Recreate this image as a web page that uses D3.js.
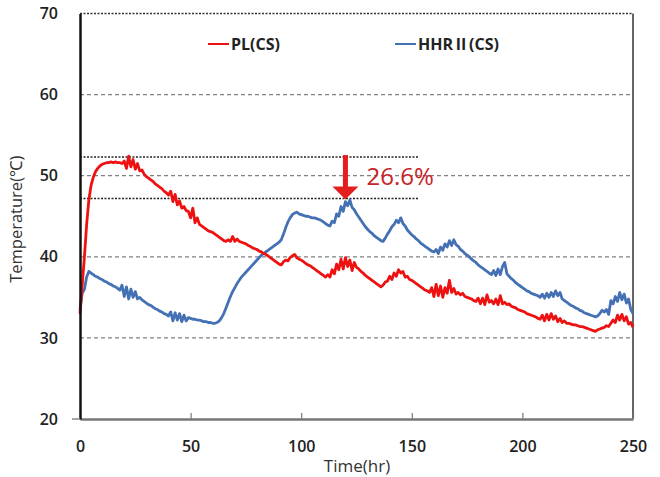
<!DOCTYPE html>
<html>
<head>
<meta charset="utf-8">
<script src="https://cdn.jsdelivr.net/npm/d3@7"></script>
<style>
  body { margin: 0; background: #fff; }
  svg text { font-family: "Open Sans", "Noto Sans", sans-serif; }
</style>
</head>
<body>
<div id="chart"></div>
<script>
// hourly readings, t = 0..250 hr
const plCS = [
  33.0, 36.5, 40.0, 44.0, 47.0, 48.8, 49.8, 50.5, 50.9, 51.2,
  51.4, 51.5, 51.6, 51.6, 51.7, 51.6, 51.7, 51.6, 51.6, 51.5,
  51.8, 50.9, 52.4, 51.1, 52.0, 50.8, 51.5, 50.6, 50.7, 50.2,
  49.9, 49.7, 49.5, 49.3, 49.0, 48.8, 48.6, 48.4, 48.1, 47.9,
  47.6, 48.1, 46.8, 47.7, 46.4, 46.9, 46.0, 46.2, 45.7, 45.6,
  44.8, 46.0, 44.2, 44.8, 44.0, 43.8, 43.6, 43.4, 43.2, 43.1,
  43.0, 42.8, 42.6, 42.4, 42.2, 42.0, 41.9, 42.1, 41.9, 42.5,
  41.9, 42.2, 41.9, 41.8, 41.7, 41.6, 41.4, 41.3, 41.1, 41.0,
  40.9, 40.7, 40.6, 40.4, 40.3, 40.1, 39.9, 39.7, 39.5, 39.3,
  39.1, 39.0, 39.4, 39.6, 39.5, 39.9, 40.1, 40.3, 39.9, 39.7,
  39.6, 39.4, 39.2, 39.0, 38.9, 38.7, 38.5, 38.3, 38.1, 37.9,
  37.7, 37.5, 37.8, 37.5, 38.4, 37.9, 39.1, 38.4, 39.7, 38.5,
  39.9, 38.8, 39.6, 38.3, 39.3, 38.7, 38.5, 38.2, 38.0, 37.7,
  37.5, 37.3, 37.1, 36.9, 36.7, 36.5, 36.3, 36.5, 36.9, 37.0,
  37.6, 37.2, 38.0, 37.6, 38.4, 38.0, 38.2, 37.5, 37.6, 37.2,
  37.1, 36.9, 36.7, 36.5, 36.3, 36.1, 35.9, 35.8, 35.6, 36.2,
  35.1, 36.6, 35.2, 36.4, 35.0, 36.2, 35.5, 37.1, 35.6, 36.1,
  35.4, 35.6, 35.3, 35.5, 35.1, 35.0, 34.9, 34.8, 34.6, 34.5,
  34.9, 34.2, 34.9, 34.1, 35.3, 34.4, 34.6, 34.2, 34.8, 34.1,
  35.2, 34.2, 34.4, 34.1, 34.2, 33.9, 33.8, 33.7, 33.5, 33.4,
  33.3, 33.2, 33.0, 32.9, 32.8, 32.7, 32.6, 32.4, 32.3, 32.8,
  32.1, 32.9, 32.2, 33.0, 32.3, 32.7, 32.0, 32.4, 31.9, 32.1,
  31.8, 31.8, 31.7, 31.6, 31.6, 31.5, 31.4, 31.4, 31.3, 31.2,
  31.1, 31.0, 30.9, 30.8, 31.0, 31.1, 31.2, 31.3, 31.5, 31.4,
  31.8, 32.2, 31.9, 32.8, 32.2, 32.9, 32.1, 32.6, 31.7, 31.9,
  31.3
];
const hhrCS = [
  33.5, 35.5, 36.0, 37.5, 38.2, 38.0, 37.8, 37.6, 37.5, 37.3,
  37.2, 37.0, 36.9, 36.7, 36.6, 36.4, 36.3, 36.1, 35.9, 36.5,
  35.1, 36.3, 34.8, 36.0, 35.0, 35.7, 34.8, 35.0, 34.7, 34.5,
  34.3, 34.1, 34.0, 33.8, 33.6, 33.5, 33.3, 33.2, 33.0, 32.9,
  32.7, 33.2, 32.1, 33.1, 32.2, 33.0, 32.0, 32.8, 32.1, 32.5,
  32.4, 32.3, 32.3, 32.2, 32.2, 32.1, 32.0, 32.0, 31.9, 31.9,
  31.8, 31.8, 31.9, 32.1, 32.5, 33.0, 33.7, 34.4, 35.1, 35.7,
  36.2, 36.7, 37.1, 37.5, 37.8, 38.1, 38.4, 38.7, 39.0, 39.3,
  39.6, 39.9, 40.2, 40.4, 40.6, 40.8, 41.0, 41.2, 41.4, 41.6,
  41.8, 42.1, 42.8, 43.6, 44.3, 44.8, 45.2, 45.4, 45.5, 45.3,
  45.2, 45.1, 45.0, 45.0, 44.9, 44.8, 44.8, 44.7, 44.6, 44.5,
  44.3, 44.1, 43.9, 43.8, 44.4, 44.2, 45.3, 45.0, 46.2, 45.6,
  46.8, 46.3, 47.0, 46.1, 45.8, 45.3, 44.9, 44.5, 44.1, 43.7,
  43.4, 43.1, 42.9, 42.6, 42.4, 42.2, 42.0, 41.9, 42.3, 42.8,
  43.2, 43.7, 44.0, 44.5, 44.2, 44.8, 44.1, 43.8, 43.3, 43.0,
  42.7, 42.5, 42.2, 42.0, 41.7, 41.5, 41.3, 41.1, 40.9, 40.7,
  40.6, 40.9, 40.4, 41.2, 40.8, 41.6, 41.2, 42.0, 41.4, 42.1,
  41.5, 41.3, 40.9, 40.7, 40.4, 40.2, 40.0, 39.7, 39.5, 39.3,
  39.0, 38.8, 38.6, 38.4, 38.2, 38.0, 37.8, 38.3, 37.7, 38.5,
  37.8, 38.8, 39.3, 37.9, 37.6, 37.3, 37.1, 36.8, 36.6, 36.4,
  36.2, 36.0, 35.8, 35.7, 35.5, 35.4, 35.3, 35.2, 35.0, 35.4,
  34.9, 35.5, 35.0, 35.6, 35.1, 35.8, 35.2, 35.6, 34.8, 34.6,
  34.4, 34.2, 34.0, 33.9, 33.7, 33.6, 33.4, 33.3, 33.1, 33.0,
  32.9, 32.8, 32.7, 32.6, 32.7, 33.0, 33.4, 33.2, 33.5, 32.9,
  34.6, 34.2, 35.1, 34.5, 35.6, 34.7, 35.4, 34.3, 34.8, 33.5,
  33.0
];
const xTicks = [0, 50, 100, 150, 200, 250];
const yTicks = [20, 30, 40, 50, 60, 70];
const dashedLevels = [60, 50, 40, 30];
const peakLevels = [52.3, 47.2];   // peak temperatures marked with dotted lines
const reductionLabel = "26.6%";
const seriesNames = ["PL(CS)", "HHRⅡ(CS)"];

const W = 660, H = 477;
const margin = {top: 13.5, right: 27, bottom: 58, left: 80};

const svg = d3.select("#chart").append("svg")
  .attr("width", W).attr("height", H);

const x = d3.scaleLinear().domain([0, 250]).range([margin.left, W - margin.right]);
const y = d3.scaleLinear().domain([20, 70]).range([H - margin.bottom, margin.top]);

// dashed grid
svg.append("g").selectAll("line")
  .data(dashedLevels).join("line")
    .attr("x1", x(0)).attr("x2", x(250))
    .attr("y1", d => y(d)).attr("y2", d => y(d))
    .attr("stroke", "#808080").attr("stroke-width", 1.2)
    .attr("stroke-dasharray", "4,3");

// dotted top line
svg.append("line")
  .attr("x1", x(0)).attr("x2", x(250))
  .attr("y1", y(70)).attr("y2", y(70))
  .attr("stroke", "#333").attr("stroke-width", 1.5)
  .attr("stroke-dasharray", "2,1.5");

// dotted peak lines
svg.append("g").selectAll("line")
  .data(peakLevels).join("line")
    .attr("x1", x(0)).attr("x2", x(153))
    .attr("y1", d => y(d)).attr("y2", d => y(d))
    .attr("stroke", "#222").attr("stroke-width", 1.5)
    .attr("stroke-dasharray", "2,1.5");

// right border
svg.append("line")
  .attr("x1", x(250)).attr("x2", x(250))
  .attr("y1", y(70)).attr("y2", y(20))
  .attr("stroke", "#555").attr("stroke-width", 1.8);

// series
const line = d3.line().x((d, i) => x(i)).y(d => y(d));
svg.append("path").datum(hhrCS)
  .attr("fill", "none").attr("stroke", "#4470b4")
  .attr("stroke-width", 2.8).attr("stroke-linejoin", "round")
  .attr("d", line);
svg.append("path").datum(plCS)
  .attr("fill", "none").attr("stroke", "#ee1111")
  .attr("stroke-width", 2.8).attr("stroke-linejoin", "round")
  .attr("d", line);

// x axis
const xAxis = svg.append("g")
  .attr("transform", `translate(0,${y(20)})`)
  .call(d3.axisBottom(x).tickValues(xTicks).tickSizeInner(-6).tickSizeOuter(0).tickPadding(22));
xAxis.select(".domain").attr("stroke", "#777").attr("stroke-width", 2.5);
xAxis.selectAll(".tick line").attr("stroke", "#777").attr("stroke-width", 1.2);
xAxis.selectAll(".tick text")
  .attr("font-size", 16).attr("font-weight", 600).attr("fill", "#222");

// y axis
const yAxis = svg.append("g")
  .attr("transform", `translate(${x(0)},0)`)
  .call(d3.axisLeft(y).tickValues(yTicks).tickSize(0).tickPadding(22));
yAxis.select(".domain").attr("stroke", "#111").attr("stroke-width", 2.5);
yAxis.selectAll(".tick text")
  .attr("font-size", 16).attr("font-weight", 600).attr("fill", "#222");
svg.append("line")
  .attr("x1", x(0) - 8).attr("x2", x(0))
  .attr("y1", y(20)).attr("y2", y(20))
  .attr("stroke", "#888").attr("stroke-width", 1.5);

// axis titles
svg.append("text")
  .attr("x", 357).attr("y", 472)
  .attr("text-anchor", "middle")
  .attr("font-size", 17).attr("fill", "#333")
  .text("Time(hr)");
svg.append("text")
  .attr("transform", `translate(22,${y(45) + 3}) rotate(-90)`)
  .attr("text-anchor", "middle")
  .attr("font-size", 16.5).attr("fill", "#333")
  .text("Temperature(℃)");

// legend
const legendColors = ["#ee1111", "#4470b4"];
const legendX = [208, 395];
const legend = svg.append("g").selectAll("g")
  .data(seriesNames).join("g")
    .attr("transform", (d, i) => `translate(${legendX[i]},44)`);
legend.append("line")
  .attr("x1", 0).attr("x2", 21)
  .attr("stroke", (d, i) => legendColors[i]).attr("stroke-width", 2);
const legendText = legend.append("text")
  .attr("x", 23).attr("dy", "0.35em")
  .attr("font-size", 16).attr("font-weight", 700).attr("fill", "#222");
// the roman numeral is drawn with a CJK font so it gets its full-width form
legendText.each(function(d) {
  const parts = d.split("Ⅱ");
  const t = d3.select(this);
  t.append("tspan").text(parts[0]);
  if (parts.length > 1) {
    t.append("tspan")
      .attr("font-family", "'Noto Sans CJK KR', sans-serif").text("Ⅱ");
    t.append("tspan").text(parts[1]);
  }
});

// reduction arrow
const arrowX = x(120);
const arrowTop = y(peakLevels[0]) - 2;
const arrowTip = y(peakLevels[1]) + 1;
svg.append("line")
  .attr("x1", arrowX).attr("x2", arrowX)
  .attr("y1", arrowTop).attr("y2", arrowTip - 12)
  .attr("stroke", "#e41e1e").attr("stroke-width", 5);
svg.append("path")
  .attr("d", `M${arrowX - 13},${arrowTip - 13} L${arrowX + 13},${arrowTip - 13} L${arrowX},${arrowTip} Z`)
  .attr("fill", "#e41e1e");
svg.append("text")
  .attr("x", arrowX + 21).attr("y", y(50) + 9)
  .attr("font-size", 24).attr("fill", "#c8242a")
  .text(reductionLabel);
</script>
</body>
</html>
